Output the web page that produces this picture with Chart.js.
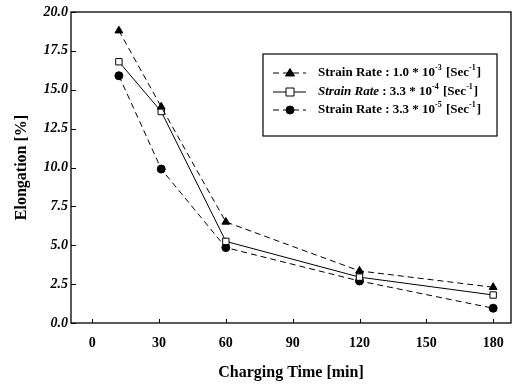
<!DOCTYPE html>
<html>
<head>
<meta charset="utf-8">
<script src="https://cdn.jsdelivr.net/npm/chart.js@4"></script>
<style>
  html, body { margin: 0; padding: 0; background: #fff; }
  #wrap { width: 517px; height: 387px; }
</style>
</head>
<body>
<div id="wrap"><canvas id="elongChart" width="517" height="387"></canvas></div>
<script>
// Values
const chargingTimes = [12, 31, 60, 120, 180]; // min
const rateHigh = [18.8, 13.9, 6.5, 3.35, 2.3];   // 1.0 * 10^-3
const rateMid = [16.8, 13.6, 5.25, 2.95, 1.8];   // 3.3 * 10^-4
const rateLow = [15.9, 9.9, 4.85, 2.7, 0.95];    // 3.3 * 10^-5
const xTicks = [0, 30, 60, 90, 120, 150, 180];
const yTicks = [0, 2.5, 5, 7.5, 10, 12.5, 15, 17.5, 20];
const seriesNames = [
  'Strain Rate : 1.0 * 10^-3 [Sec^-1]',
  'Strain Rate : 3.3 * 10^-4 [Sec^-1]',
  'Strain Rate : 3.3 * 10^-5 [Sec^-1]'
];

const serif = "'Liberation Serif', 'Times New Roman', serif";

function toPoints(vals) {
  return chargingTimes.map((t, i) => ({ x: t, y: vals[i] }));
}

// frame, inward ticks and the boxed legend
const framePlugin = {
  id: 'frame',
  afterDraw(chart) {
    const { ctx, chartArea: a, scales } = chart;
    ctx.save();
    ctx.strokeStyle = '#000';
    ctx.lineWidth = 1.3;
    ctx.strokeRect(a.left, a.top, a.right - a.left, a.bottom - a.top);
    ctx.lineWidth = 1;
    yTicks.forEach(v => {
      const y = Math.round(scales.y.getPixelForValue(v)) + 0.5;
      ctx.beginPath(); ctx.moveTo(a.left, y); ctx.lineTo(a.left + 5, y); ctx.stroke();
    });
    xTicks.forEach(v => {
      const x = Math.round(scales.x.getPixelForValue(v)) + 0.5;
      ctx.beginPath(); ctx.moveTo(x, a.bottom); ctx.lineTo(x, a.bottom - 4); ctx.stroke();
    });

    // legend box
    const bx = 263, by = 54, bw = 234, bh = 82;
    ctx.fillStyle = '#fff';
    ctx.fillRect(bx, by, bw, bh);
    ctx.lineWidth = 1.2;
    ctx.strokeRect(bx, by, bw, bh);
    const rows = [73, 92, 110];
    chart.data.datasets.forEach((ds, i) => {
      const y = rows[i];
      ctx.strokeStyle = '#000';
      ctx.lineWidth = 1;
      ctx.setLineDash(ds.borderDash || []);
      ctx.beginPath(); ctx.moveTo(273, y); ctx.lineTo(306, y); ctx.stroke();
      ctx.setLineDash([]);
      drawMarker(ctx, ds.pointStyle, 290, y, ds.pointBackgroundColor);
      drawRich(ctx, seriesNames[i], 318, y, i === 1);
    });
    ctx.restore();
  }
};

function drawMarker(ctx, style, x, y, fill) {
  ctx.fillStyle = fill;
  ctx.strokeStyle = '#000';
  ctx.lineWidth = 1;
  ctx.beginPath();
  if (style === 'triangle') {
    ctx.moveTo(x, y - 4.5); ctx.lineTo(x + 4.5, y + 3); ctx.lineTo(x - 4.5, y + 3); ctx.closePath();
  } else if (style === 'rect') {
    ctx.rect(x - 4, y - 4, 8, 8);
  } else {
    ctx.arc(x, y, 4, 0, Math.PI * 2);
  }
  ctx.fill(); ctx.stroke();
}

// text with ^-n superscripts
function drawRich(ctx, text, x, y, italicHead) {
  const parts = text.split(/(\^-\d)/);
  ctx.fillStyle = '#000';
  ctx.textBaseline = 'middle';
  ctx.textAlign = 'left';
  parts.forEach(p => {
    if (!p) return;
    if (p.startsWith('^')) {
      ctx.font = 'bold 8px ' + serif;
      ctx.fillText(p.slice(1), x, y - 5);
      x += ctx.measureText(p.slice(1)).width + 1;
    } else if (italicHead && p.startsWith('Strain Rate')) {
      ctx.font = 'italic bold 13px ' + serif;
      ctx.fillText('Strain Rate', x, y);
      x += ctx.measureText('Strain Rate').width;
      ctx.font = 'bold 13px ' + serif;
      const rest = p.slice('Strain Rate'.length);
      ctx.fillText(rest, x, y);
      x += ctx.measureText(rest).width;
    } else {
      ctx.font = 'bold 13px ' + serif;
      ctx.fillText(p, x, y);
      x += ctx.measureText(p).width;
    }
  });
}

const ctx = document.getElementById('elongChart').getContext('2d');

const chart = new Chart(ctx, {
  type: 'scatter',
  data: {
    datasets: [
      {
        label: seriesNames[0],
        data: toPoints(rateHigh),
        showLine: true,
        borderColor: '#000',
        borderWidth: 1,
        borderDash: [6, 4],
        pointStyle: 'triangle',
        pointRadius: 4.5,
        pointBackgroundColor: '#000',
        pointBorderColor: '#000'
      },
      {
        label: seriesNames[1],
        data: toPoints(rateMid),
        showLine: true,
        borderColor: '#000',
        borderWidth: 1,
        pointStyle: 'rect',
        pointRadius: 4.5,
        pointBackgroundColor: '#fff',
        pointBorderColor: '#000',
        pointBorderWidth: 1
      },
      {
        label: seriesNames[2],
        data: toPoints(rateLow),
        showLine: true,
        borderColor: '#000',
        borderWidth: 1,
        borderDash: [6, 4],
        pointStyle: 'circle',
        pointRadius: 4,
        pointBackgroundColor: '#000',
        pointBorderColor: '#000'
      }
    ]
  },
  options: {
    responsive: false,
    animation: false,
    layout: { padding: { left: 0, right: 6, top: 12, bottom: 0 } },
    plugins: {
      legend: { display: false },
      tooltip: { enabled: false }
    },
    scales: {
      x: {
        type: 'linear',
        min: -9.5,
        max: 188,
        afterFit: s => { s.height = 64; },
        afterBuildTicks: s => { s.ticks = xTicks.map(v => ({ value: v })); },
        grid: { display: false, drawTicks: false },
        border: { display: false },
        ticks: {
          padding: 12,
          color: '#000',
          font: { family: serif, size: 14, weight: 'bold' }
        },
        title: {
          display: true,
          text: 'Charging Time [min]',
          color: '#000',
          padding: { top: 0, bottom: 5 },
          font: { family: serif, size: 16, weight: 'bold', lineHeight: 1.2 }
        }
      },
      y: {
        min: 0,
        max: 20,
        afterFit: s => { s.width = 71; },
        afterBuildTicks: s => { s.ticks = yTicks.map(v => ({ value: v })); },
        grid: { display: false, drawTicks: false },
        border: { display: false },
        ticks: {
          padding: 3,
          color: '#000',
          font: { family: serif, size: 14, weight: 'bold', style: 'italic' },
          callback: v => v.toFixed(1)
        },
        title: {
          display: true,
          text: 'Elongation [%]',
          color: '#000',
          padding: { top: 12, bottom: 0 },
          font: { family: serif, size: 16, weight: 'bold', lineHeight: 1.2 }
        }
      }
    }
  },
  plugins: [framePlugin]
});
</script>
</body>
</html>
